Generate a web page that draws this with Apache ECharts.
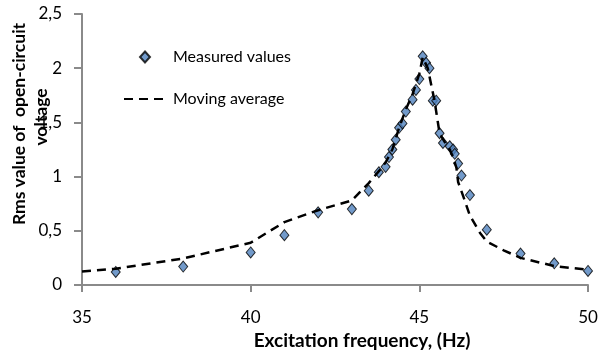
<!DOCTYPE html>
<html>
<head>
<meta charset="utf-8">
<script src="https://cdn.jsdelivr.net/npm/echarts@6/dist/echarts.min.js"></script>
<style>
html,body{margin:0;padding:0;background:#fff;}
#chart{width:599px;height:358px;}
</style>
</head>
<body>
<div id="chart"></div>
<script>
// Measured values
const measFreq = [36, 38, 40, 41, 42, 43, 43.5, 43.8, 44.0, 44.1, 44.2, 44.3, 44.4, 44.5, 44.6, 44.8, 44.9, 45.0, 45.1, 45.2, 45.3, 45.4, 45.5, 45.6, 45.7, 45.9, 46.0, 46.05, 46.15, 46.25, 46.5, 47, 48, 49, 50];
const measValues = [0.12, 0.17, 0.30, 0.46, 0.67, 0.70, 0.87, 1.04, 1.09, 1.18, 1.25, 1.34, 1.45, 1.49, 1.60, 1.71, 1.80, 1.90, 2.11, 2.05, 2.00, 1.70, 1.70, 1.40, 1.31, 1.28, 1.25, 1.21, 1.12, 1.01, 0.83, 0.51, 0.29, 0.20, 0.13];
// Moving average
const avgFreq = [35.0, 36.0, 38.0, 40.0, 41.0, 42.0, 43.0, 43.5, 43.8, 44.0, 44.2, 44.4, 44.6, 44.8, 45.0, 45.1, 45.25, 45.45, 45.6, 45.75, 45.9, 46.0, 46.1, 46.15, 46.3, 46.5, 46.8, 47.0, 47.5, 48.0, 49.0, 50.0];
const avgValues = [0.125, 0.15, 0.245, 0.39, 0.58, 0.69, 0.78, 0.94, 1.05, 1.13, 1.25, 1.45, 1.62, 1.76, 1.95, 2.10, 2.00, 1.70, 1.40, 1.32, 1.25, 1.18, 1.08, 0.95, 0.82, 0.64, 0.48, 0.40, 0.32, 0.25, 0.175, 0.14];
// Axis ticks
const xTicks = [35, 40, 45, 50];
const yTicks = [0, 0.5, 1, 1.5, 2, 2.5];
// Titles
const xTitle = 'Excitation frequency, (Hz)';
const yTitleLines = ['Rms value of  open-circuit', 'voltage'];

const FONT = 'Lato';
const chart = echarts.init(document.getElementById('chart'));
const fmt = v => String(v).replace('.', ',');
chart.setOption({
  animation: false,
  backgroundColor: '#fff',
  textStyle: {fontFamily: FONT, color: '#000'},
  grid: {left: 82, right: 11, top: 14, bottom: 73, containLabel: false, outerBoundsMode: 'none'},
  legend: [
    {
      orient: 'vertical', left: 134, top: 44,
      itemWidth: 10, itemHeight: 11, itemGap: 10,
      textStyle: {fontFamily: FONT, fontSize: 16, color: '#000', padding: [0, 0, 0, 18]},
      data: [{name: 'Measured values', icon: 'diamond'}]
    },
    {
      orient: 'vertical', left: 118, top: 86,
      itemWidth: 40, itemHeight: 14, itemGap: 10,
      textStyle: {fontFamily: FONT, fontSize: 16, color: '#000', padding: [0, 0, 0, 4]},
      data: [{name: 'Moving average', itemStyle: {opacity: 0}}]
    }
  ],
  graphic: [
    {type: 'text', x: 19, y: 124, rotation: Math.PI / 2,
     style: {text: yTitleLines[0], font: 'bold 17.5px Lato', fill: '#000', align: 'center', verticalAlign: 'middle'}},
    {type: 'text', x: 41, y: 117, rotation: Math.PI / 2,
     style: {text: yTitleLines[1], font: 'bold 17.5px Lato', fill: '#000', align: 'center', verticalAlign: 'middle'}}
  ],
  xAxis: {
    type: 'value', min: xTicks[0], max: xTicks[xTicks.length - 1], interval: 5,
    name: xTitle, nameLocation: 'middle', nameGap: 44,
    nameTextStyle: {fontFamily: FONT, fontSize: 19, fontWeight: 'bold', color: '#000', padding: [0, 0, 0, 54]},
    axisLine: {lineStyle: {color: '#8a8a8a', width: 2}},
    axisTick: {show: true, length: 7, lineStyle: {color: '#8a8a8a', width: 2}},
    axisLabel: {fontFamily: FONT, fontSize: 17, color: '#000', margin: 24, formatter: fmt},
    splitLine: {show: false}
  },
  yAxis: {
    type: 'value', min: yTicks[0], max: yTicks[yTicks.length - 1], interval: 0.5,
    axisLine: {show: true, lineStyle: {color: '#8a8a8a', width: 2}},
    axisTick: {show: true, length: 8, lineStyle: {color: '#8a8a8a', width: 2}},
    axisLabel: {fontFamily: FONT, fontSize: 17, color: '#000', margin: 20, formatter: fmt},
    splitLine: {show: false}
  },
  series: [
    {
      name: 'Measured values', type: 'scatter', symbol: 'diamond', symbolSize: [9, 11],
      itemStyle: {color: '#4F81BD', borderColor: '#000', borderWidth: 1},
      data: measFreq.map((f, i) => [f, measValues[i]]), z: 2
    },
    {
      name: 'Moving average', type: 'line', showSymbol: false, symbol: 'none',
      lineStyle: {color: '#000', width: 2.5, type: [9, 6]},
      itemStyle: {color: '#000'},
      data: avgFreq.map((f, i) => [f, avgValues[i]]), z: 3
    }
  ]
});
</script>
</body>
</html>
